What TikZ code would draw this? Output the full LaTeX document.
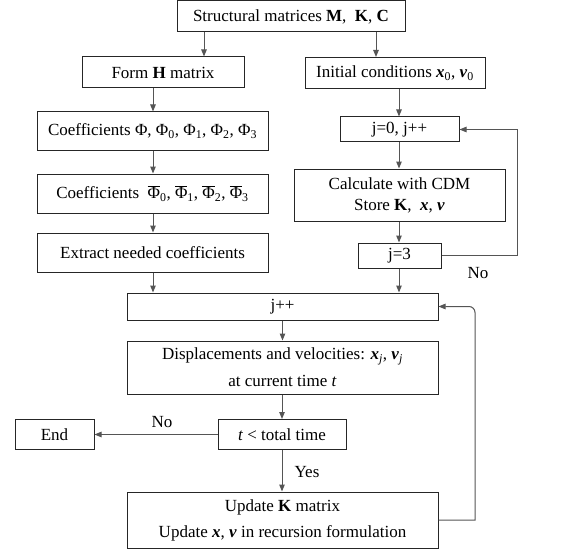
\documentclass[tikz,border=0pt]{standalone}
\usepackage{fontspec}
\setmainfont{Liberation Serif}
\usetikzlibrary{arrows.meta}
\definecolor{linegray}{HTML}{555555}
\tikzset{
  box/.style={draw=black!85, line width=1pt, inner sep=0pt, align=center},
  flow/.style={draw=linegray, line width=1pt, -{Triangle[length=7pt,width=5.5pt]}}
}
\newcommand{\bx}{\textbf{\textit{x}}}
\newcommand{\bv}{\textbf{\textit{v}}}
\newcommand{\phibar}{$\overline{\mbox{Φ}}$}
\begin{document}
\begin{tikzpicture}[x=1pt,y=-1pt,font=\fontsize{17}{20}\selectfont]
\useasboundingbox (0,0) rectangle (563,551);

\node[box,minimum width=228pt,minimum height=31pt] (struct) at (291,16.5) {Structural matrices \textbf{M},\ \ \textbf{K}, \textbf{C}};

\node[box,minimum width=162pt,minimum height=31pt] (formH) at (163,72.5) {Form \textbf{H} matrix};

\node[box,minimum width=180pt,minimum height=31pt] (init) at (395,73) {Initial conditions \bx\textsubscript{0}, \bv\textsubscript{0}};

\node[box,minimum width=231pt,minimum height=38pt] (coefA) at (152.5,131) {Coefficients Φ, Φ\textsubscript{0}, Φ\textsubscript{1}, Φ\textsubscript{2}, Φ\textsubscript{3}};

\node[box,minimum width=119pt,minimum height=25pt] (jinit) at (399.5,129.5) {j=0, j++};

\node[box,minimum width=231pt,minimum height=39pt] (coefB) at (152.5,193.5) {Coefficients\ \ \phibar\textsubscript{0}, \phibar\textsubscript{1}, \phibar\textsubscript{2}, \phibar\textsubscript{3}};

\node[box,minimum width=211pt,minimum height=52pt] (cdm) at (399.5,195) {Calculate with CDM\\[1pt] Store \textbf{K},\ \ \bx, \bv};

\node[box,minimum width=231pt,minimum height=39pt] (extract) at (152.5,252.5) {Extract needed coefficients};

\node[box,minimum width=83pt,minimum height=25pt] (jthree) at (399.5,255.5) {j=3};

\node[box,minimum width=311pt,minimum height=27pt] (jnext) at (282.5,306.5) {j++};

\node[box,minimum width=311pt,minimum height=53pt] (disp) at (282.5,367.5) {Displacements and velocities: \bx\textsubscript{\textit{j}}, \bv\textsubscript{\textit{j}}\\[7pt] at current time \textit{t}};

\node[box,minimum width=128pt,minimum height=30pt] (tcheck) at (282,434.5) {\textit{t} < total time};

\node[box,minimum width=79pt,minimum height=30pt] (stop) at (54.5,434.5) {End};

\node[box,minimum width=311pt,minimum height=56pt] (update) at (282.5,520) {Update \textbf{K} matrix\\[6pt] Update \bx, \bv\ in recursion formulation};

% left column
\draw[flow] (204,0 |- struct.south) -- (204,0 |- formH.north);
\draw[flow] (153,0 |- formH.south) -- (153,0 |- coefA.north);
\draw[flow] (153,0 |- coefA.south) -- (153,0 |- coefB.north);
\draw[flow] (153,0 |- coefB.south) -- (153,0 |- extract.north);
\draw[flow] (153,0 |- extract.south) -- (153,0 |- jnext.north);

% right column
\draw[flow] (376,0 |- struct.south) -- (376,0 |- init.north);
\draw[flow] (399,0 |- init.south) -- (399,0 |- jinit.north);
\draw[flow] (399,0 |- jinit.south) -- (399,0 |- cdm.north);
\draw[flow] (399,0 |- cdm.south) -- (399,0 |- jthree.north);
\draw[flow] (399,0 |- jthree.south) -- (399,0 |- jnext.north);
\draw[flow] (jthree.east) -- (517,0 |- jthree.east) -- (517,0 |- jinit.east) -- (jinit.east);
\node (noA) at (478,273) {No};

% time loop
\draw[flow] (jnext.south) -- (jnext.south |- disp.north);
\draw[flow] (disp.south -| tcheck.north) -- (tcheck.north);
\draw[flow] (tcheck.west) -- (stop.east);
\node (noB) at (162,422) {No};
\draw[flow] (tcheck.south) -- (tcheck.south |- update.north);
\node (yes) at (307,472) {Yes};
\draw[flow] (update.east) -- (475,0 |- update.east) [rounded corners=6pt] -- (475,0 |- jnext.east) -- (jnext.east);
\end{tikzpicture}
\end{document}
